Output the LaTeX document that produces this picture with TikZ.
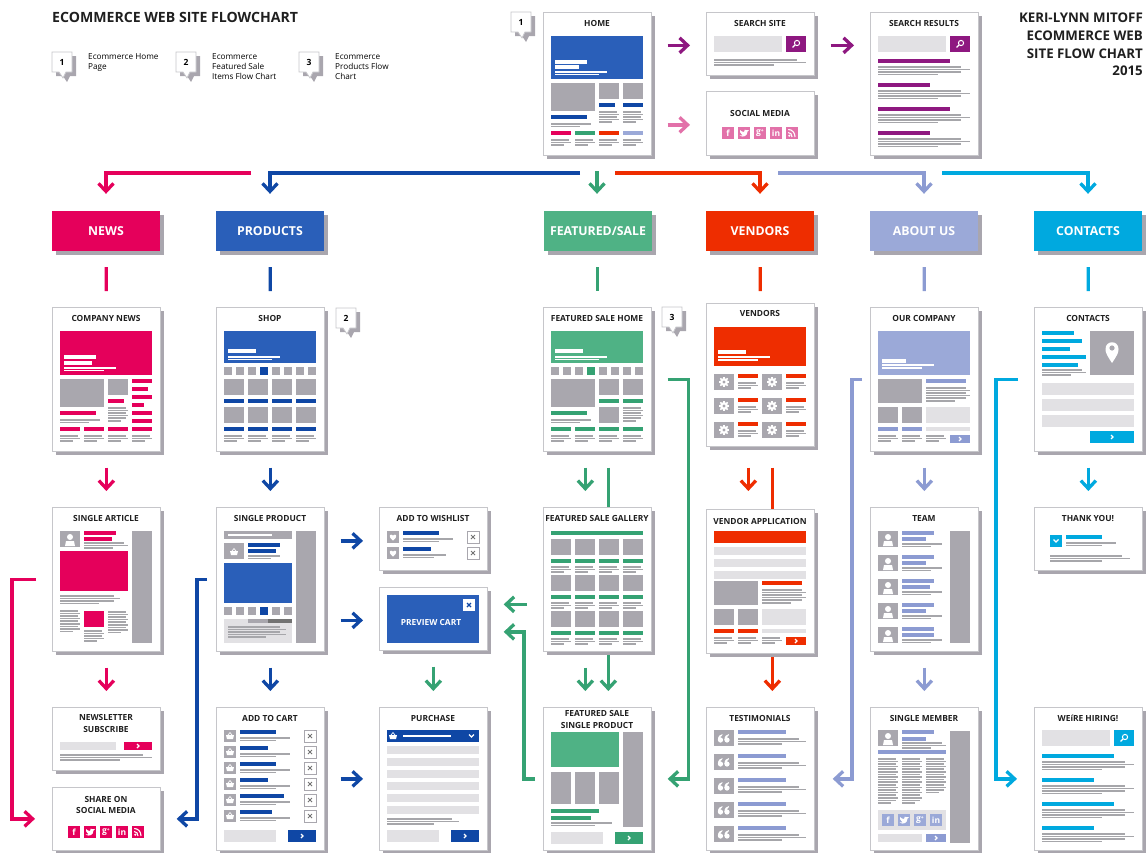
\documentclass[tikz,border=0pt]{standalone}
\usepackage{fontspec}
\setmainfont{Open Sans}
\usetikzlibrary{arrows.meta,shadows,backgrounds}

\definecolor{newspink}{HTML}{E5005B}
\definecolor{prodblue}{HTML}{2A5FB9}
\definecolor{proddark}{HTML}{0F47A5}
\definecolor{salegreen}{HTML}{4FB285}
\definecolor{saledark}{HTML}{35A273}
\definecolor{vendred}{HTML}{EE2D00}
\definecolor{aboutblue}{HTML}{9BA9D8}
\definecolor{aboutdark}{HTML}{8C9BD2}
\definecolor{contactcyan}{HTML}{00A9DF}
\definecolor{searchpurple}{HTML}{8E1880}
\definecolor{socialpink}{HTML}{E271A9}
\definecolor{blockgray}{HTML}{A9A7AE}
\definecolor{palegray}{HTML}{E2E1E4}
\definecolor{linegray}{HTML}{A6A6AA}
\definecolor{cardshade}{HTML}{A9A6AE}
\definecolor{cardedge}{HTML}{C6C6CA}

\tikzset{
  pagebox/.style={draw=cardedge,line width=.7pt,fill=white,anchor=north west,inner sep=0pt,
    minimum width=108pt,minimum height=#1,
    drop shadow={shadow xshift=4pt,shadow yshift=-4pt,opacity=1,fill=cardshade}},
  cardtitle/.style={font=\bfseries\fontsize{8.4}{11.5}\selectfont,align=center,inner sep=0pt,text=black!88},
  menubox/.style={minimum width=108pt,minimum height=40pt,inner sep=0pt,text=white,
    font=\bfseries\fontsize{12.3}{14}\selectfont,
    drop shadow={shadow xshift=4pt,shadow yshift=-4pt,opacity=1,fill=cardshade}},
  flow/.style={draw=#1,line width=3.3pt},
  gap/.style={shorten <=#1,shorten >=#1},
  glyph/.style={text=white,inner sep=0pt,font=\bfseries\fontsize{8.5}{9}\selectfont},
  legendtext/.style={anchor=north west,align=left,inner sep=0pt,font=\fontsize{8.2}{10.4}\selectfont,text=black},
}

\newcommand{\blk}[5]{\fill[#1] (#2,#3) rectangle ++(#4,#5);}
\newcommand{\tlines}[4]{\foreach \n in {1,...,#4}{%
  \pgfmathsetmacro\lw{#3*ifthenelse(\n==#4,.65,1-.1*mod(\n,2))}%
  \fill[linegray] (#1,#2+2.6*\n-2.6) rectangle ++(\lw,1.5);}}
\newcommand{\pagecard}[4][11.4]{%
  \node[pagebox=#3pt] (#2) at (0,0) {};
  \node[cardtitle] (#2title) at (54,#1) {#4};}
\newcommand{\chev}[3]{\draw[#1,line width=1.2pt] (#2-1,#3-2) -- (#2+1,#3) -- (#2-1,#3+2);}
\newcommand{\btn}[5]{\blk{#1}{#2}{#3}{#4}{#5}\chev{white}{#2+#4/2}{#3+#5/2}}
\newcommand{\closebox}[2]{%
  \draw[blockgray,fill=white,line width=.6pt] (#1,#2) rectangle ++(12,12);
  \draw[black!55,line width=.9pt] (#1+4,#2+4) -- ++(4,4) (#1+8,#2+4) -- ++(-4,4);}
\newcommand{\lens}[2]{%
  \draw[white,line width=1pt] (#1+1,#2-1) circle[radius=2.6];
  \draw[white,line width=1.3pt] (#1-1,#2+1) -- ++(-2.5,2.5);}
\newcommand{\personicon}[2]{%
  \blk{blockgray}{#1}{#2}{20}{16}
  \fill[white] (#1+10,#2+6) circle[radius=3];
  \fill[white] (#1+5,#2+15) -- (#1+6,#2+10) -- (#1+14,#2+10) -- (#1+15,#2+15) -- cycle;}
\newcommand{\basket}[2]{%
  \fill[white] (#1-4,#2-1) -- (#1+4,#2-1) -- (#1+3,#2+3) -- (#1-3,#2+3) -- cycle;
  \draw[white,line width=.7pt] (#1-2,#2-1) -- (#1,#2-3.5) -- (#1+2,#2-1);}
\newcommand{\heart}[2]{%
  \blk{blockgray}{#1}{#2}{12}{12}
  \fill[white] (#1+6,#2+9.5) .. controls (#1,#2+5) and (#1+3.5,#2+2) .. (#1+6,#2+4.5)
    .. controls (#1+8.5,#2+2) and (#1+12,#2+5) .. (#1+6,#2+9.5);}
\newcommand{\gearicon}[2]{%
  \blk{blockgray}{#1}{#2}{20}{16}
  \foreach \a in {0,45,...,315}{\draw[white,line width=1.5pt] (#1+10,#2+8) -- ++(\a:5.2);}
  \fill[white] (#1+10,#2+8) circle[radius=4];
  \fill[blockgray] (#1+10,#2+8) circle[radius=1.7];}
\newcommand{\quoteicon}[2]{%
  \blk{blockgray}{#1}{#2}{20}{16}
  \foreach \q in {6.5,13}{%
    \fill[white] (#1+\q,#2+10) circle[radius=2.6];
    \fill[white] (#1+\q-2.6,#2+10) .. controls (#1+\q-2.6,#2+6) and (#1+\q-.5,#2+4.5) .. (#1+\q+2,#2+4)
      -- (#1+\q+1.6,#2+5.5) .. controls (#1+\q,#2+6.5) and (#1+\q-.5,#2+7.5) .. (#1+\q,#2+8) -- cycle;}}
% social squares
\newcommand{\icf}[3]{\blk{#1}{#2}{#3}{12}{12}\node[glyph] (icf) at (#2+6,#3+6) {f};}
\newcommand{\icg}[3]{\blk{#1}{#2}{#3}{12}{12}\node[glyph] (icg) at (#2+6,#3+6) {g\raisebox{2pt}{\tiny+}};}
\newcommand{\icin}[3]{\blk{#1}{#2}{#3}{12}{12}\node[glyph] (icin) at (#2+6,#3+6) {in};}
\newcommand{\ict}[3]{\blk{#1}{#2}{#3}{12}{12}
  \fill[white] (#2+1.5,#3+8.5) .. controls (#2+5,#3+11) and (#2+9.5,#3+9) .. (#2+9.5,#3+4.5)
    -- (#2+11,#3+3) -- (#2+9,#3+3.2) .. controls (#2+7.5,#3+1.5) and (#2+5.5,#3+3) .. (#2+6,#3+5)
    .. controls (#2+4.5,#3+5) and (#2+3,#3+4) .. (#2+2,#3+3) .. controls (#2+1.5,#3+5) and (#2+2.5,#3+6) .. (#2+3,#3+6.5)
    -- (#2+4.5,#3+8.3) .. controls (#2+3.5,#3+8.8) and (#2+2.5,#3+8.8) .. (#2+1.5,#3+8.5);}
\newcommand{\icr}[3]{\blk{#1}{#2}{#3}{12}{12}
  \fill[white] (#2+3.3,#3+8.7) circle[radius=1.2];
  \draw[white,line width=1.1pt] (#2+2.2,#3+5.5) .. controls (#2+4.5,#3+5.5) and (#2+6,#3+7.5) .. (#2+6,#3+10)
    (#2+2.2,#3+2.5) .. controls (#2+6.5,#3+2.5) and (#2+9,#3+6) .. (#2+9,#3+10);}
\newcommand{\tagmark}[4]{%
  \begin{scope}[shift={(#2,#3)}]
    \fill[cardshade] (4,4) -- (24,4) -- (24,24) -- (18,24) -- (15,30) -- (11,24) -- (4,24) -- cycle;
    \draw[cardedge,fill=white,line width=.7pt] (0,0) -- (20,0) -- (20,20) -- (14,20) -- (11,26) -- (7,20) -- (0,20) -- cycle;
    \node[inner sep=0pt,font=\bfseries\fontsize{8.5}{9}\selectfont] (#1) at (10,10) {#4};
  \end{scope}}
\newcommand{\searchlist}[1]{%
  \foreach \yy/\ww in {47/72,71/52,95/72,119/52}{%
    \blk{#1}{8}{\yy}{\ww}{4}
    \tlines{8}{\yy+7}{92}{4}}}

\begin{document}
\begin{tikzpicture}[x=1pt,y=-1pt,>={Straight Barb[length=8pt,width=15pt,line width=3.3pt]}]
  \useasboundingbox (0,0) rectangle (1147,852);

  % titles and legend
  \node[anchor=west,inner sep=0pt,font=\bfseries\fontsize{14.1}{16}\selectfont,text=black!88] (maintitle) at (52,17) {ECOMMERCE WEB SITE FLOWCHART};
  \node[anchor=north east,align=right,inner sep=0pt,font=\bfseries\fontsize{13.3}{17.7}\selectfont,text=black!88] (author) at (1143,13)
    {KERI-LYNN MITOFF\\ECOMMERCE WEB\\SITE FLOW CHART\\2015};
  \tagmark{legendone}{52}{52}{1}
  \tagmark{legendtwo}{176}{52}{2}
  \tagmark{legendthree}{299}{52}{3}
  \node[legendtext] (legendonetext) at (88,53) {Ecommerce Home\\Page};
  \node[legendtext] (legendtwotext) at (212,53) {Ecommerce\\Featured Sale\\Items Flow Chart};
  \node[legendtext] (legendthreetext) at (335,53) {Ecommerce\\Products Flow\\Chart};
  \tagmark{markhome}{511}{12}{1}
  \tagmark{markshop}{336}{308}{2}
  \tagmark{marksale}{662}{307}{3}

  % top row
  \begin{scope}[shift={(543,12)}]
    \pagecard{home}{143}{HOME}
    \blk{prodblue}{8}{24}{92}{43}
    \blk{white}{12}{47.5}{32}{4}\blk{white}{12}{53}{24}{4}\blk{white}{12}{59}{52}{1.5}\blk{white}{12}{61.5}{44}{1.5}
    \blk{blockgray}{8}{71}{44}{28}\blk{blockgray}{56}{71}{20}{16}\blk{blockgray}{80}{71}{20}{16}
    \blk{proddark}{56}{91}{16}{4}\blk{proddark}{80}{91}{20}{4}\blk{proddark}{8}{103}{36}{4}
    \tlines{56}{99}{20}{5}\tlines{80}{99}{20}{5}\tlines{8}{111}{44}{2}
    \blk{newspink}{8}{119}{20}{4}\blk{saledark}{32}{119}{20}{4}\blk{vendred}{56}{119}{20}{4}\blk{aboutblue}{80}{119}{20}{4}
    \foreach \x in {8,32,56,80}{\tlines{\x}{127}{20}{3}}
  \end{scope}
  \begin{scope}[shift={(706,12)}]
    \pagecard{searchsite}{63}{SEARCH SITE}
    \blk{palegray}{8}{24}{68}{16}\blk{searchpurple}{80}{24}{20}{16}\lens{90}{32}
    \tlines{8}{47}{92}{3}
  \end{scope}
  \begin{scope}[shift={(706,91)}]
    \pagecard[22]{socialmedia}{64}{SOCIAL MEDIA}
    \icf{socialpink}{16}{36}\ict{socialpink}{32}{36}\icg{socialpink}{48}{36}\icin{socialpink}{64}{36}\icr{socialpink}{80}{36}
  \end{scope}
  \begin{scope}[shift={(870,12)}]
    \pagecard{results}{143}{SEARCH RESULTS}
    \blk{palegray}{8}{24}{68}{16}\blk{searchpurple}{80}{24}{20}{16}\lens{90}{32}
    \searchlist{searchpurple}
  \end{scope}

  % menu row
  \node[menubox,fill=newspink] (news) at (106,231) {NEWS};
  \node[menubox,fill=prodblue] (products) at (270,231) {PRODUCTS};
  \node[menubox,fill=salegreen] (featured) at (598,231) {FEATURED/SALE};
  \node[menubox,fill=vendred] (vendors) at (760,231) {VENDORS};
  \node[menubox,fill=aboutblue] (about) at (924,231) {ABOUT US};
  \node[menubox,fill=contactcyan] (contacts) at (1088,231) {CONTACTS};

  % news column
  \begin{scope}[shift={(52,307)}]
    \pagecard{companynews}{144}{COMPANY NEWS}
    \blk{newspink}{8}{24}{92}{44}
    \blk{white}{12}{48}{32}{4}\blk{white}{12}{54}{28}{4}\blk{white}{12}{60}{52}{1.5}\blk{white}{12}{62.5}{40}{1.5}
    \blk{blockgray}{8}{72}{44}{28}\blk{blockgray}{56}{72}{20}{16}\blk{newspink}{56}{92}{16}{4}
    \tlines{56}{100}{20}{6}
    \foreach \yy/\ww in {72/20,80/16,88/20,96/12,104/20,112/20}{\blk{newspink}{80}{\yy}{\ww}{4}}
    \blk{newspink}{8}{104}{36}{4}\tlines{8}{112}{44}{2}
    \foreach \x in {8,32,56,80}{\blk{newspink}{\x}{120}{20}{4}\tlines{\x}{128}{20}{3}}
  \end{scope}
  \begin{scope}[shift={(52,507)}]
    \pagecard{article}{144}{SINGLE ARTICLE}
    \personicon{8}{24}
    \blk{newspink}{32}{24}{32}{4}\blk{newspink}{32}{30}{28}{4}\tlines{32}{35}{44}{3}
    \blk{newspink}{8}{44}{68}{40}\tlines{8}{88}{60}{4}
    \tlines{8}{103}{20}{9}\blk{newspink}{32}{104}{20}{16}\tlines{56}{104}{20}{9}\tlines{32}{123}{20}{5}
    \blk{blockgray}{80}{24}{20}{112}
  \end{scope}
  \begin{scope}[shift={(52,707)}]
    \pagecard[16.5]{newsletter}{63}{NEWSLETTER\\SUBSCRIBE}
    \blk{palegray}{8}{35}{56}{8}\btn{newspink}{72}{35}{28}{8}
    \tlines{8}{47}{92}{3}
  \end{scope}
  \begin{scope}[shift={(52,787)}]
    \pagecard[18]{share}{63}{SHARE ON\\SOCIAL MEDIA}
    \icf{newspink}{16}{39}\ict{newspink}{32}{39}\icg{newspink}{48}{39}\icin{newspink}{64}{39}\icr{newspink}{80}{39}
  \end{scope}

  % products column
  \begin{scope}[shift={(216,307)}]
    \pagecard{shop}{144}{SHOP}
    \blk{prodblue}{8}{24}{92}{32}
    \blk{white}{12}{42}{28}{4}\blk{white}{12}{49}{52}{1.5}\blk{white}{12}{51.5}{44}{1.5}
    \foreach \x in {8,20,32,56,68,80,92}{\blk{blockgray}{\x}{60}{8}{8}}
    \blk{proddark}{44}{60}{8}{8}
    \foreach \x in {8,32,56,80}{\blk{blockgray}{\x}{72}{20}{16}\blk{proddark}{\x}{92}{20}{4}
      \blk{blockgray}{\x}{100}{20}{16}\blk{proddark}{\x}{120}{20}{4}\tlines{\x}{128}{20}{3}}
  \end{scope}
  \begin{scope}[shift={(216,507)}]
    \pagecard{singleproduct}{144}{SINGLE PRODUCT}
    \blk{blockgray}{8}{24}{68}{8}\blk{white}{12}{26.5}{44}{2.5}
    \blk{blockgray}{8}{36}{20}{16}\basket{18}{45}
    \blk{proddark}{32}{36}{32}{4}\blk{proddark}{32}{42}{28}{4}\tlines{32}{48}{36}{2}
    \blk{prodblue}{8}{56}{68}{40}
    \foreach \x in {8,20,32,56,68}{\blk{blockgray}{\x}{100}{8}{8}}
    \blk{proddark}{44}{100}{8}{8}
    \blk{palegray}{8}{112}{68}{24}\blk{blockgray}{32}{112}{20}{4}\blk{black!55}{52}{112}{24}{4}
    \tlines{12}{119}{58}{5}
    \blk{blockgray}{80}{24}{20}{112}
  \end{scope}
  \begin{scope}[shift={(216,707)}]
    \pagecard{addcart}{143}{ADD TO CART}
    \foreach \yy/\ww in {23/36,39/28,55/36,71/28,87/44,103/32}{%
      \blk{blockgray}{8}{\yy}{12}{12}\basket{14}{\yy+6}
      \blk{proddark}{24}{\yy}{\ww}{4}\tlines{24}{\yy+7}{56}{2}
      \closebox{88}{\yy}}
    \blk{palegray}{8}{123}{52}{12}\btn{proddark}{72}{123}{28}{12}
  \end{scope}

  % cart column
  \begin{scope}[shift={(379,507)}]
    \pagecard{wishlist}{63}{ADD TO WISHLIST}
    \heart{8}{24}\heart{8}{40}
    \blk{proddark}{24}{24}{36}{4}\tlines{24}{31}{56}{2}
    \blk{proddark}{24}{40}{28}{4}\tlines{24}{47}{48}{2}
    \closebox{88}{24}\closebox{88}{40}
  \end{scope}
  \begin{scope}[shift={(379,587)}]
    \pagecard[35]{preview}{63}{}
    \blk{prodblue}{8}{8}{92}{48}
    \node[cardtitle,text=white] (previewlabel) at (52,35) {PREVIEW CART};
    \blk{white}{84}{12}{12}{12}
    \draw[proddark,line width=1.1pt] (88,16) -- ++(4,4) (92,16) -- ++(-4,4);
  \end{scope}
  \begin{scope}[shift={(379,707)}]
    \pagecard{purchase}{143}{PURCHASE}
    \blk{proddark}{8}{23}{92}{12}\basket{14}{29}\blk{white}{24}{27.5}{48}{2}
    \draw[white,line width=1.2pt] (90,27.5) -- (92.5,30) -- (95,27.5);
    \foreach \yy in {39,51,63,75,87,99}{\blk{palegray}{8}{\yy}{92}{8}}
    \tlines{8}{111}{72}{3}
    \blk{palegray}{8}{123}{52}{12}\btn{proddark}{72}{123}{28}{12}
  \end{scope}

  % featured column
  \begin{scope}[shift={(543,307)}]
    \pagecard{salehome}{144}{FEATURED SALE HOME}
    \blk{salegreen}{8}{24}{92}{32}
    \blk{white}{12}{42}{28}{4}\blk{white}{12}{49}{52}{1.5}\blk{white}{12}{51.5}{44}{1.5}
    \foreach \x in {8,20,32,56,68,80,92}{\blk{blockgray}{\x}{60}{8}{8}}
    \blk{saledark}{44}{60}{8}{8}
    \blk{blockgray}{8}{72}{44}{28}\blk{blockgray}{56}{72}{20}{16}\blk{blockgray}{80}{72}{20}{16}
    \blk{saledark}{56}{92}{20}{4}\blk{saledark}{80}{92}{20}{4}
    \blk{blockgray}{56}{100}{20}{16}\tlines{80}{100}{20}{6}
    \blk{saledark}{8}{104}{36}{4}\tlines{8}{112}{44}{2}
    \foreach \x in {8,32,56,80}{\blk{saledark}{\x}{120}{20}{4}\tlines{\x}{128}{20}{3}}
  \end{scope}
  \begin{scope}[shift={(543,507)}]
    \pagecard{gallery}{144}{FEATURED SALE GALLERY}
    \blk{saledark}{8}{24}{92}{4}
    \foreach \yy in {32,68,104}{\foreach \x in {8,32,56,80}{%
      \blk{blockgray}{\x}{\yy}{20}{16}\blk{saledark}{\x}{\yy+20}{20}{4}\tlines{\x}{\yy+27}{20}{3}}}
  \end{scope}
  \begin{scope}[shift={(543,707)}]
    \pagecard[12.5]{salesingle}{143}{FEATURED SALE\\SINGLE PRODUCT}
    \blk{salegreen}{8}{25}{68}{35}\blk{blockgray}{80}{25}{20}{95}
    \foreach \x in {8,32,56}{\blk{blockgray}{\x}{65}{20}{32}}
    \blk{saledark}{8}{102}{48}{4}\blk{saledark}{8}{109}{40}{4}\tlines{8}{115}{68}{2}
    \blk{palegray}{8}{125}{52}{12}\btn{saledark}{72}{125}{28}{12}
  \end{scope}

  % vendors column
  \begin{scope}[shift={(706,303)}]
    \pagecard[10.5]{vendorhome}{143}{VENDORS}
    \blk{vendred}{8}{24}{92}{39}
    \blk{white}{12}{47}{28}{4}\blk{white}{12}{53}{52}{1.5}\blk{white}{12}{56}{40}{1.5}
    \foreach \yy in {71,95,119}{\foreach \x in {8,56}{%
      \gearicon{\x}{\yy}\blk{vendred}{\x+24}{\yy}{20}{4}\tlines{\x+24}{\yy+8}{20}{3}}}
  \end{scope}
  \begin{scope}[shift={(706,509)}]
    \pagecard[12]{vendorapp}{144}{VENDOR APPLICATION}
    \blk{vendred}{8}{22}{92}{12}
    \foreach \yy in {38,50,62}{\blk{palegray}{8}{\yy}{92}{8}}
    \blk{blockgray}{8}{72}{44}{24}\blk{vendred}{56}{72}{40}{4}\tlines{56}{80}{44}{6}
    \blk{blockgray}{8}{100}{20}{16}\blk{blockgray}{32}{100}{20}{16}\blk{palegray}{56}{100}{44}{16}
    \blk{vendred}{8}{120}{20}{4}\blk{vendred}{32}{120}{20}{4}\blk{palegray}{56}{120}{44}{4}
    \foreach \x in {8,32,56}{\tlines{\x}{128}{20}{3}}
    \btn{vendred}{80}{128}{20}{8}
  \end{scope}
  \begin{scope}[shift={(706,707)}]
    \pagecard{testimonials}{143}{TESTIMONIALS}
    \foreach \yy in {23,47,71,95,119}{%
      \quoteicon{8}{\yy}\blk{aboutdark}{32}{\yy}{48}{4}\tlines{32}{\yy+8}{68}{3}}
  \end{scope}

  % about column
  \begin{scope}[shift={(870,307)}]
    \pagecard{ourcompany}{144}{OUR COMPANY}
    \blk{aboutblue}{8}{24}{92}{44}
    \blk{white}{12}{52}{24}{4}\blk{white}{12}{57}{52}{1.5}\blk{white}{12}{60}{40}{1.5}
    \blk{blockgray}{8}{72}{44}{24}\blk{aboutdark}{56}{72}{40}{4}\tlines{56}{80}{44}{6}
    \blk{blockgray}{8}{100}{20}{16}\blk{blockgray}{32}{100}{20}{16}\blk{palegray}{56}{100}{44}{16}
    \blk{aboutdark}{8}{120}{20}{4}\blk{aboutdark}{32}{120}{20}{4}\blk{palegray}{56}{120}{44}{4}
    \foreach \x in {8,32,56}{\tlines{\x}{128}{20}{3}}
    \btn{aboutdark}{80}{128}{20}{8}
  \end{scope}
  \begin{scope}[shift={(870,507)}]
    \pagecard{team}{144}{TEAM}
    \foreach \yy/\ww in {24/24,48/24,72/28,96/24,120/32}{%
      \personicon{8}{\yy}\blk{aboutdark}{32}{\yy}{32}{4}\blk{aboutdark}{32}{\yy+6}{\ww}{4}\tlines{32}{\yy+12}{44}{2}}
    \blk{blockgray}{80}{24}{20}{112}
  \end{scope}
  \begin{scope}[shift={(870,707)}]
    \pagecard{member}{143}{SINGLE MEMBER}
    \personicon{8}{23}\blk{aboutdark}{32}{23}{32}{4}\blk{aboutdark}{32}{29.5}{24}{4}\tlines{32}{35}{44}{3}
    \blk{aboutdark}{8}{43}{68}{4}
    \tlines{8}{51}{20}{18}\tlines{32}{51}{20}{18}\tlines{56}{51}{20}{14}
    \blk{palegray}{8}{103}{68}{20}
    \icf{aboutblue}{12}{107}\ict{aboutblue}{28}{107}\icg{aboutblue}{44}{107}\icin{aboutblue}{60}{107}
    \blk{palegray}{8}{127}{44}{8}\btn{aboutdark}{56}{127}{20}{8}
    \blk{blockgray}{80}{24}{20}{112}
  \end{scope}

  % contacts column
  \begin{scope}[shift={(1034,307)}]
    \pagecard{contactpage}{144}{CONTACTS}
    \foreach \yy/\ww in {24/32,32/40,40/28,48/44,56/36}{\blk{contactcyan}{8}{\yy}{\ww}{4}}
    \tlines{8}{62}{44}{3}
    \blk{blockgray}{56}{24}{44}{44}
    \fill[white] (78,56) .. controls (72,47) and (71.5,45) .. (71.5,42) .. controls (71.5,33) and (84.5,33) .. (84.5,42) .. controls (84.5,45) and (84,47) .. (78,56);
    \fill[blockgray] (78,41) circle[radius=2.6];
    \foreach \yy in {76,92,108}{\blk{palegray}{8}{\yy}{92}{12}}
    \btn{contactcyan}{56}{124}{44}{12}
  \end{scope}
  \begin{scope}[shift={(1034,507)}]
    \pagecard{thankyou}{63}{THANK YOU!}
    \blk{contactcyan}{16}{28}{12}{12}
    \draw[white,line width=1.2pt] (19.5,32.5) -- (22,35) -- (24.5,32.5);
    \blk{contactcyan}{32}{28}{36}{4}\tlines{32}{35}{56}{2}\tlines{16}{48}{80}{3}
  \end{scope}
  \begin{scope}[shift={(1034,707)}]
    \pagecard{hiring}{143}{WEíRE HIRING!}
    \blk{palegray}{8}{23}{68}{16}\blk{contactcyan}{80}{23}{20}{16}\lens{90}{31}
    \searchlist{contactcyan}
  \end{scope}

  % connectors behind the cards
  \begin{pgfonlayer}{background}
    \draw[flow=saledark,->,gap=16pt] ([xshift=11pt]salehome.south) -- ([xshift=11pt]salesingle.north);
    \draw[flow=vendred,->,shorten <=21pt,shorten >=16pt] ([xshift=12pt]vendorhome.south) -- ([xshift=12pt]testimonials.north);
  \end{pgfonlayer}

  % from home to the menu
  \coordinate (busnews) at (251,173);
  \coordinate (busprod) at (580,173);
  \coordinate (bussale) at (597,171);
  \coordinate (busvend) at (615,173);
  \coordinate (busabout) at (778,173);
  \coordinate (buscontact) at (942,173);
  \draw[flow=newspink,->,shorten >=17pt] (busnews) -| (news.north);
  \draw[flow=proddark,->,shorten >=17pt] (busprod) -| (products.north);
  \draw[flow=saledark,->,shorten >=17pt] (bussale) -- (bussale |- featured.north);
  \draw[flow=vendred,->,shorten >=17pt] (busvend) -| (vendors.north);
  \draw[flow=aboutdark,->,shorten >=17pt] (busabout) -| (about.north);
  \draw[flow=contactcyan,->,shorten >=17pt] (buscontact) -| (contacts.north);

  % top arrows
  \draw[flow=searchpurple,->,gap=16pt] ([yshift=-1.5pt]home.east |- searchsite.west) -- ([yshift=-1.5pt]searchsite.west);
  \draw[flow=socialpink,->,gap=16pt] ([yshift=-1.5pt]home.east |- socialmedia.west) -- ([yshift=-1.5pt]socialmedia.west);
  \draw[flow=searchpurple,->,gap=16pt] ([yshift=-1.5pt]searchsite.east) -- ([yshift=-1.5pt]searchsite.east -| results.west);

  % menu to first page
  \draw[flow=newspink,gap=16pt] (news) -- (companynews.north);
  \draw[flow=proddark,gap=16pt] (products) -- (shop.north);
  \draw[flow=saledark,gap=16pt] (featured.south -| salehome.north) -- (salehome.north);
  \draw[flow=vendred,shorten <=16pt,shorten >=12pt] (vendors) -- (vendorhome.north);
  \draw[flow=aboutdark,gap=16pt] (about) -- (ourcompany.north);
  \draw[flow=contactcyan,gap=16pt] (contacts) -- (contactpage.north);

  % down the columns
  \draw[flow=newspink,->,gap=16pt] (companynews.south) -- (article.north);
  \draw[flow=newspink,->,gap=16pt] (article.south) -- (newsletter.north);
  \draw[flow=proddark,->,gap=16pt] (shop.south) -- (singleproduct.north);
  \draw[flow=proddark,->,gap=16pt] (singleproduct.south) -- (addcart.north);
  \draw[flow=saledark,->,gap=16pt] (preview.south) -- (purchase.north);
  \draw[flow=saledark,->,gap=16pt] ([xshift=-12pt]salehome.south) -- ([xshift=-12pt]gallery.north);
  \draw[flow=saledark,->,gap=16pt] ([xshift=-12pt]gallery.south) -- ([xshift=-12pt]salesingle.north);
  \draw[flow=vendred,->,shorten <=21pt,shorten >=18pt] ([xshift=-12pt]vendorhome.south) -- ([xshift=-12pt]vendorapp.north);
  \draw[flow=aboutdark,->,gap=16pt] (ourcompany.south) -- (team.north);
  \draw[flow=aboutdark,->,gap=16pt] (team.south) -- (member.north);
  \draw[flow=contactcyan,->,gap=16pt] (contactpage.south) -- (thankyou.north);

  % sideways
  \draw[flow=proddark,->,gap=16pt] ([yshift=-2pt]singleproduct.east |- wishlist.west) -- ([yshift=-2pt]wishlist.west);
  \draw[flow=proddark,->,gap=16pt] ([yshift=-1.5pt]singleproduct.east |- preview.west) -- ([yshift=-1.5pt]preview.west);
  \draw[flow=proddark,->,gap=16pt] (addcart.east) -- (purchase.west);
  \draw[flow=saledark,->,gap=16pt] ([yshift=-25pt]gallery.west) -- ([yshift=-25pt]gallery.west -| preview.east);
  \draw[flow=saledark,->,shorten <=8pt,shorten >=16pt] (salesingle.west) -- ++(-19,0) |- ([yshift=-13pt]preview.east);
  \draw[flow=saledark,->,gap=16pt] (salehome.east) -- ++(37,0) |- (salesingle.east);
  \draw[flow=aboutdark,->,shorten <=8pt,shorten >=18pt] (ourcompany.west) -- ++(-18,0) |- (testimonials.east);
  \draw[flow=contactcyan,->,shorten <=16pt,shorten >=17pt] (contactpage.west) -- ++(-38,0) |- (hiring.west);
  \draw[flow=newspink,->,shorten <=16pt,shorten >=17pt] (article.west) -- ++(-40,0) |- (share.west);
  \draw[flow=proddark,->,shorten <=9pt,shorten >=16pt] (singleproduct.west) -- ++(-19,0) |- (share.east);
\end{tikzpicture}
\end{document}
